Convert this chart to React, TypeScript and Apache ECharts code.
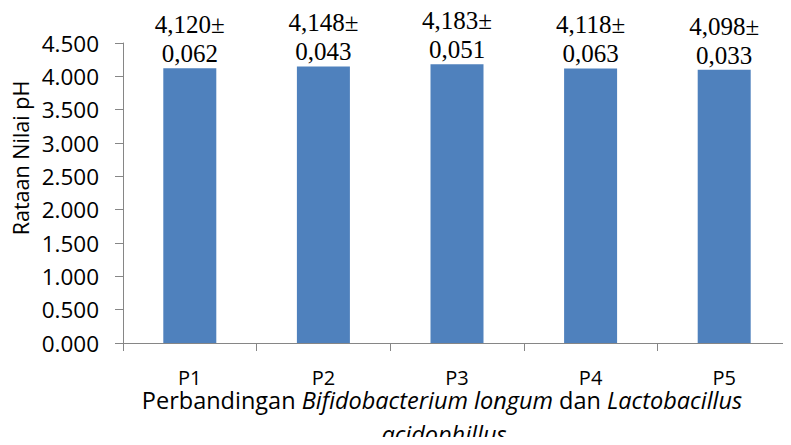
import React, { useEffect, useRef } from "react";
import * as echarts from "echarts";

const categories = ["P1", "P2", "P3", "P4", "P5"];
const phMeans = [4.12, 4.148, 4.183, 4.118, 4.098];
const phSD = [0.062, 0.043, 0.051, 0.063, 0.033];
const yTicks = [0, 0.5, 1, 1.5, 2, 2.5, 3, 3.5, 4, 4.5];

const fmtComma = (v: number) => v.toFixed(3).replace(".", ",");

export default function App() {
  const ref = useRef<HTMLDivElement>(null);
  useEffect(() => {
    if (!ref.current) return;
    const chart = echarts.init(ref.current, null, { renderer: "svg" });
    const sansFont = "'Open Sans', 'Liberation Sans', sans-serif";
    chart.setOption({
      animation: false,
      grid: { left: 123, top: 43, width: 680, height: 300, containLabel: false },
      xAxis: {
        type: "category",
        data: categories,
        axisLine: { lineStyle: { color: "#868686", width: 1 } },
        axisTick: { show: true, length: 8, alignWithLabel: false, lineStyle: { color: "#868686" } },
        axisLabel: { color: "#000", fontSize: 20, fontFamily: sansFont, margin: 24 },
      },
      yAxis: {
        type: "value",
        min: 0,
        max: yTicks[yTicks.length - 1],
        interval: 0.5,
        splitLine: { show: false },
        axisLine: { show: true, lineStyle: { color: "#868686", width: 1 } },
        axisTick: { show: true, length: 8, lineStyle: { color: "#868686" } },
        axisLabel: {
          color: "#000",
          fontSize: 22.5,
          fontFamily: sansFont,
          margin: 24,
          formatter: (v: number) => v.toFixed(3),
        },
      },
      series: [
        {
          type: "bar",
          data: phMeans,
          barWidth: 53,
          itemStyle: { color: "#4F81BD" },
          label: {
            show: true,
            position: "top",
            distance: 0,
            color: "#000",
            fontFamily: "'Liberation Serif', 'Times New Roman', serif",
            fontSize: 25,
            lineHeight: 29,
            formatter: (p: any) => fmtComma(phMeans[p.dataIndex]) + "±\n" + fmtComma(phSD[p.dataIndex]),
          },
        },
      ],
      graphic: [
        {
          type: "text",
          x: 20,
          y: 158,
          rotation: Math.PI / 2,
          style: {
            text: "Rataan Nilai pH",
            fontSize: 21.5,
            fontFamily: sansFont,
            fill: "#000",
            align: "center",
            verticalAlign: "middle",
          },
        },
        {
          type: "text",
          x: 442,
          y: 400,
          style: {
            text: "Perbandingan {i|Bifidobacterium longum} dan {i|Lactobacillus}",
            fontSize: 23.5,
            fontFamily: sansFont,
            fill: "#000",
            align: "center",
            verticalAlign: "middle",
            rich: { i: { fontStyle: "italic", fontSize: 23.5, fontFamily: sansFont } },
          },
        },
        {
          type: "text",
          x: 444,
          y: 434,
          style: {
            text: "acidophillus",
            fontSize: 23.5,
            fontStyle: "italic",
            fontFamily: sansFont,
            fill: "#000",
            align: "center",
            verticalAlign: "middle",
          },
        },
      ],
    });
    return () => chart.dispose();
  }, []);
  return <div ref={ref} style={{ width: 791, height: 445, margin: -8 }} />;
}
